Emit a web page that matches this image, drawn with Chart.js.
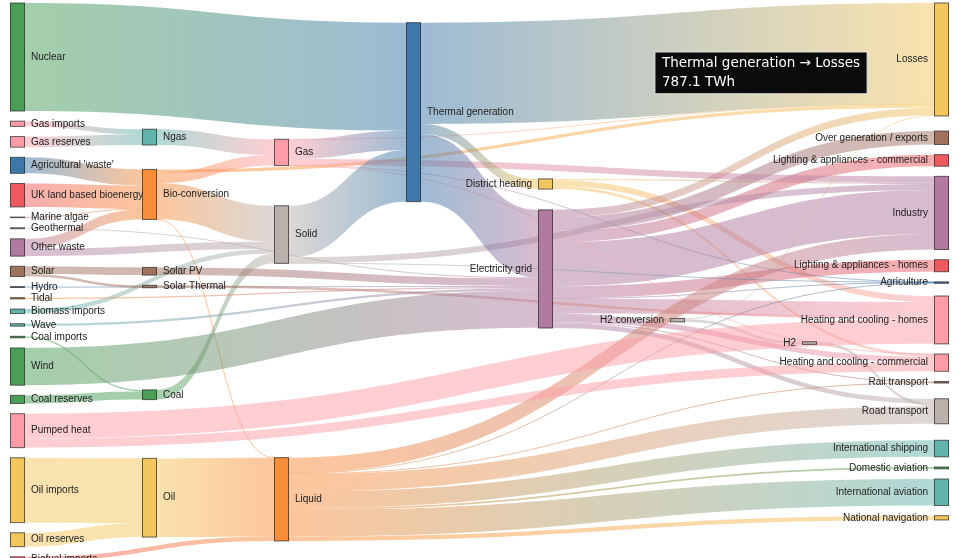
<!DOCTYPE html>
<html>
<head>
<meta charset="utf-8">
<script src="https://cdn.jsdelivr.net/npm/chart.js@4.4.1/dist/chart.umd.min.js"></script>
<style>
  html, body { margin: 0; padding: 0; background: #ffffff; }
  #wrap { width: 964px; height: 558px; position: relative; }
</style>
</head>
<body>
<div id="wrap"><canvas id="chart"></canvas></div>
<script>
// ---------------- DATA ----------------
// Node names, in the order they appear from top to bottom within each column
const nodeNames = [
  "Nuclear", "Gas imports", "Gas reserves", "Agricultural 'waste'", "UK land based bioenergy",
  "Marine algae", "Geothermal", "Other waste", "Solar", "Hydro", "Tidal", "Biomass imports",
  "Wave", "Coal imports", "Wind", "Coal reserves", "Pumped heat", "Oil imports", "Oil reserves",
  "Biofuel imports",
  "Ngas", "Bio-conversion", "Solar PV", "Solar Thermal", "Coal", "Oil",
  "Gas", "Solid", "Liquid",
  "Thermal generation",
  "District heating", "Electricity grid",
  "H2 conversion",
  "H2",
  "Losses", "Over generation / exports", "Lighting & appliances - commercial", "Industry",
  "Lighting & appliances - homes", "Agriculture", "Heating and cooling - homes",
  "Heating and cooling - commercial", "Rail transport", "Road transport",
  "International shipping", "Domestic aviation", "International aviation", "National navigation"
];

const linkFrom = [
  "Agricultural 'waste'", "Bio-conversion", "Bio-conversion", "Bio-conversion", "Bio-conversion",
  "Biofuel imports", "Biomass imports", "Coal imports", "Coal reserves", "Coal",
  "District heating", "District heating", "District heating",
  "Electricity grid", "Electricity grid", "Electricity grid", "Electricity grid", "Electricity grid",
  "Electricity grid", "Electricity grid", "Electricity grid", "Electricity grid", "Electricity grid",
  "Electricity grid",
  "Gas imports", "Gas reserves",
  "Gas", "Gas", "Gas", "Gas", "Gas",
  "Geothermal", "H2 conversion", "H2 conversion", "H2", "Hydro",
  "Liquid", "Liquid", "Liquid", "Liquid", "Liquid", "Liquid", "Liquid", "Liquid",
  "Marine algae", "Ngas", "Nuclear", "Oil imports", "Oil reserves", "Oil",
  "Other waste", "Other waste", "Pumped heat", "Pumped heat",
  "Solar PV", "Solar Thermal", "Solar", "Solar",
  "Solid", "Solid", "Solid",
  "Thermal generation", "Thermal generation", "Thermal generation",
  "Tidal", "UK land based bioenergy", "Wave", "Wind"
];

const linkTo = [
  "Bio-conversion", "Liquid", "Losses", "Solid", "Gas",
  "Liquid", "Solid", "Coal", "Coal", "Solid",
  "Industry", "Heating and cooling - commercial", "Heating and cooling - homes",
  "Over generation / exports", "Heating and cooling - homes", "H2 conversion", "Industry", "Road transport",
  "Agriculture", "Heating and cooling - commercial", "Losses", "Rail transport", "Lighting & appliances - commercial",
  "Lighting & appliances - homes",
  "Ngas", "Ngas",
  "Heating and cooling - commercial", "Losses", "Thermal generation", "Agriculture", "Industry",
  "Electricity grid", "H2", "Losses", "Road transport", "Electricity grid",
  "Industry", "International shipping", "Road transport", "Domestic aviation", "International aviation",
  "Agriculture", "National navigation", "Rail transport",
  "Bio-conversion", "Gas", "Thermal generation", "Oil", "Oil", "Liquid",
  "Solid", "Bio-conversion", "Heating and cooling - homes", "Heating and cooling - commercial",
  "Electricity grid", "Heating and cooling - homes", "Solar Thermal", "Solar PV",
  "Agriculture", "Thermal generation", "Industry",
  "Electricity grid", "Losses", "District heating",
  "Electricity grid", "Bio-conversion", "Electricity grid", "Electricity grid"
];

const linkFlow = [
  124.729, 0.597, 26.862, 280.322, 81.144,
  35, 35, 11.606, 63.965, 75.571,
  10.639, 22.505, 46.184,
  104.453, 113.726, 27.14, 342.165, 37.797,
  4.412, 40.858, 56.691, 7.863, 90.008,
  93.494,
  40.719, 82.233,
  0.129, 1.401, 151.891, 2.096, 48.58,
  7.013, 20.897, 6.242, 20.897, 6.995,
  121.066, 128.69, 135.835, 14.458, 206.267,
  3.64, 33.218, 4.413,
  4.375, 122.952, 839.978, 504.287, 107.703, 611.99,
  56.587, 77.81, 193.026, 70.672,
  59.901, 19.263, 19.263, 59.901,
  0.882, 400.12, 46.477,
  525.531, 787.129, 79.329,
  9.452, 182.01, 19.013, 289.366
];

const flowUnit = "TWh";
const hoveredLink = ["Thermal generation", "Losses"];

// ---------------- STYLE / LAYOUT SETTINGS ----------------
const C = {
  blue: "#3d78a8", orange: "#f98d3a", red: "#ef5a5e", teal: "#62b4ac", green: "#4a9e55",
  yellow: "#f4c65e", purple: "#b07aa1", pink: "#fe9da7", brown: "#a0735e", gray: "#bab0ac"
};
const nodeColor = {
  "Nuclear": C.green, "Gas imports": C.pink, "Gas reserves": C.pink, "Agricultural 'waste'": C.blue,
  "UK land based bioenergy": C.red, "Marine algae": C.brown, "Geothermal": C.gray, "Other waste": C.purple,
  "Solar": C.brown, "Hydro": C.blue, "Tidal": C.orange, "Biomass imports": C.teal, "Wave": C.teal,
  "Coal imports": C.green, "Wind": C.green, "Coal reserves": C.green, "Pumped heat": C.pink,
  "Oil imports": C.yellow, "Oil reserves": C.yellow, "Biofuel imports": C.red,
  "Ngas": C.teal, "Bio-conversion": C.orange, "Solar PV": C.brown, "Solar Thermal": C.brown,
  "Coal": C.green, "Oil": C.yellow, "Gas": C.pink, "Solid": C.gray, "Liquid": C.orange,
  "Thermal generation": C.blue, "District heating": C.yellow, "Electricity grid": C.purple,
  "H2 conversion": C.gray, "H2": C.gray,
  "Losses": C.yellow, "Over generation / exports": C.brown, "Lighting & appliances - commercial": C.red,
  "Industry": C.purple, "Lighting & appliances - homes": C.red, "Agriculture": C.blue,
  "Heating and cooling - homes": C.pink, "Heating and cooling - commercial": C.pink,
  "Rail transport": C.brown, "Road transport": C.gray, "International shipping": C.teal,
  "Domestic aviation": C.green, "International aviation": C.teal, "National navigation": C.yellow
};
const NODE_W = 15;          // px
const NODE_PAD = 79;        // gap between nodes, in flow units
const Y_EXTENT = 4316;      // vertical extent of the y scale, flow units
const ITERATIONS = 2;       // relaxation passes
const LINK_EXP = 1.5;       // weight exponent of links during relaxation
const SINK_EXP = 2;         // weight exponent for the sink column
const SINK_SLACK = 400;     // tolerance (flow units) before a sink node is pushed down
const POST_FROM_COL = 4;    // columns refined after the sink column is placed
const POST_EXP = 2, POST_ALPHA = 0.5, POST_REPEAT = 2;
const LABEL_FONT = '10px "Liberation Sans", Arial, sans-serif';
const HOVER_AT = { x: 4.886, y: 381 }; // pointer position (column units, flow units)

function rgba(hex, a) {
  const v = parseInt(hex.slice(1), 16);
  return `rgba(${(v >> 16) & 255},${(v >> 8) & 255},${v & 255},${a})`;
}

// ---------------- LAYOUT ----------------
function buildLayout() {
  const nodes = nodeNames.map((name, i) => ({ name, i, inL: [], outL: [], col: 0, y0: 0 }));
  const byName = new Map(nodes.map(n => [n.name, n]));
  const links = linkFrom.map((f, i) => ({ s: byName.get(f), t: byName.get(linkTo[i]), v: linkFlow[i], sy: 0, ty: 0 }));
  links.forEach(l => { l.s.outL.push(l); l.t.inL.push(l); });
  const sum = arr => arr.reduce((a, l) => a + l.v, 0);
  nodes.forEach(n => { n.size = Math.max(sum(n.inL), sum(n.outL)); });
  let changed = true;
  while (changed) {
    changed = false;
    links.forEach(l => { if (l.t.col < l.s.col + 1) { l.t.col = l.s.col + 1; changed = true; } });
  }
  const maxCol = Math.max(...nodes.map(n => n.col));
  nodes.forEach(n => { if (!n.outL.length) n.col = maxCol; });
  const cols = [];
  for (let c = 0; c <= maxCol; c++) cols.push(nodes.filter(n => n.col === c));
  cols.forEach(col => { let y = 0; col.forEach(n => { n.y0 = y; y += n.size + NODE_PAD; }); });

  const offsets = () => nodes.forEach(n => {
    let o = 0;
    n.outL.slice().sort((a, b) => a.t.y0 - b.t.y0 || a.t.i - b.t.i).forEach(l => { l.sy = o; o += l.v; });
    o = 0;
    n.inL.slice().sort((a, b) => a.s.y0 - b.s.y0 || a.s.i - b.s.i).forEach(l => { l.ty = o; o += l.v; });
  });
  const resolve = col => {
    let y = 0;
    col.forEach(n => { if (n.y0 < y) n.y0 = y; y = n.y0 + n.size + NODE_PAD; });
    y = Y_EXTENT;
    col.slice().reverse().forEach(n => { if (n.y0 + n.size > y) n.y0 = y - n.size; y = n.y0 - NODE_PAD; });
    y = 0;
    col.forEach(n => { if (n.y0 < y) n.y0 = y; y = n.y0 + n.size + NODE_PAD; });
  };
  const inD = (n, q) => {
    let s = 0, w = 0;
    n.inL.forEach(l => { const ww = Math.pow(l.v, q); s += ww * (l.s.y0 + l.sy - l.ty); w += ww; });
    return w ? s / w : null;
  };
  const outD = (n, q) => {
    let s = 0, w = 0;
    n.outL.forEach(l => { const ww = Math.pow(l.v, q); s += ww * (l.t.y0 + l.ty - l.sy); w += ww; });
    return w ? s / w : null;
  };
  const passRTL = (from, q, a) => {
    for (let c = maxCol - 1; c >= from; c--) {
      cols[c].forEach(n => { const d = outD(n, q); if (d !== null) n.y0 += (d - n.y0) * a; });
      resolve(cols[c]); offsets();
    }
  };
  const passLTR = (from, q, a) => {
    for (let c = from; c < maxCol; c++) {
      cols[c].forEach(n => { const d = inD(n, q); if (d !== null) n.y0 += (d - n.y0) * a; });
      resolve(cols[c]); offsets();
    }
  };
  offsets();
  for (let it = 0; it < ITERATIONS; it++) {
    const a = Math.pow(0.99, it);
    passRTL(1, LINK_EXP, a);
    passLTR(1, LINK_EXP, a);
  }
  // sink column: stacked from the top, a node is pushed down only when its inputs sit well below
  let y = 0;
  cols[maxCol].forEach(n => { n.y0 = Math.max(y, inD(n, SINK_EXP) - SINK_SLACK); y = n.y0 + n.size + NODE_PAD; });
  resolve(cols[maxCol]); offsets();
  // refine the right-hand middle columns against the placed sinks
  for (let r = 0; r < POST_REPEAT; r++) {
    passRTL(POST_FROM_COL, POST_EXP, POST_ALPHA);
    passLTR(POST_FROM_COL, POST_EXP, POST_ALPHA);
  }
  return { nodes, links, maxCol };
}

const L = buildLayout();

// ---------------- DRAWING ----------------
const sankeyPlugin = {
  id: 'sankeyDraw',
  beforeDatasetsDraw(chart) {
    const { ctx, scales: { x, y } } = chart;
    ctx.save();
    // flows
    L.links.forEach(l => {
      const x0 = x.getPixelForValue(l.s.col) + NODE_W;
      const x1 = x.getPixelForValue(l.t.col);
      const s0 = y.getPixelForValue(l.s.y0 + l.sy), s1 = y.getPixelForValue(l.s.y0 + l.sy + l.v);
      const t0 = y.getPixelForValue(l.t.y0 + l.ty), t1 = y.getPixelForValue(l.t.y0 + l.ty + l.v);
      const cx = (x0 + x1) / 2;
      const g = ctx.createLinearGradient(x0, 0, x1, 0);
      g.addColorStop(0, rgba(nodeColor[l.s.name], 0.5));
      g.addColorStop(1, rgba(nodeColor[l.t.name], 0.5));
      if (s1 - s0 < 1) {
        const sm = (s0 + s1) / 2, tm = (t0 + t1) / 2;
        ctx.beginPath();
        ctx.moveTo(x0, sm);
        ctx.bezierCurveTo(cx, sm, cx, tm, x1, tm);
        ctx.strokeStyle = g; ctx.lineWidth = 1; ctx.stroke();
      } else {
        ctx.beginPath();
        ctx.moveTo(x0, s0);
        ctx.bezierCurveTo(cx, s0, cx, t0, x1, t0);
        ctx.lineTo(x1, t1);
        ctx.bezierCurveTo(cx, t1, cx, s1, x0, s1);
        ctx.closePath();
        ctx.fillStyle = g; ctx.fill();
      }
    });
    // nodes
    L.nodes.forEach(n => {
      const px = x.getPixelForValue(n.col);
      const py0 = y.getPixelForValue(n.y0), py1 = y.getPixelForValue(n.y0 + n.size);
      ctx.fillStyle = nodeColor[n.name];
      ctx.fillRect(px, py0, NODE_W, py1 - py0);
      ctx.strokeStyle = 'rgba(50,50,50,0.75)';
      ctx.lineWidth = 1;
      ctx.strokeRect(Math.round(px) + 0.5, py0, NODE_W - 1, Math.max(py1 - py0, 0.5));
    });
    // labels
    ctx.font = LABEL_FONT;
    ctx.fillStyle = '#222';
    ctx.textBaseline = 'middle';
    const mid = (chart.chartArea.left + chart.chartArea.right) / 2;
    L.nodes.forEach(n => {
      const px = x.getPixelForValue(n.col);
      const pc = (y.getPixelForValue(n.y0) + y.getPixelForValue(n.y0 + n.size)) / 2;
      if (px < mid) { ctx.textAlign = 'left'; ctx.fillText(n.name, px + NODE_W + 6, pc); }
      else { ctx.textAlign = 'right'; ctx.fillText(n.name, px - 6, pc); }
    });
    ctx.restore();
  }
};

Chart.Tooltip.positioners.hoverPoint = function () {
  const c = this.chart;
  return { x: c.scales.x.getPixelForValue(HOVER_AT.x), y: c.scales.y.getPixelForValue(HOVER_AT.y) };
};

const linkPoints = L.links.map(l => ({
  x: (l.s.col + l.t.col) / 2,
  y: ((l.s.y0 + l.sy) + (l.t.y0 + l.ty)) / 2 + l.v / 2
}));

const chart = new Chart(document.getElementById('chart'), {
  type: 'scatter',
  data: { datasets: [{ label: 'flows', data: linkPoints, pointRadius: 0, pointHoverRadius: 0 }] },
  options: {
    responsive: true,
    maintainAspectRatio: false,
    animation: false,
    events: [],
    layout: { padding: { left: 10, right: 30, top: 3, bottom: 0 } },
    scales: {
      x: { type: 'linear', min: 0, max: L.maxCol, display: false },
      y: { type: 'linear', min: 0, max: Y_EXTENT, reverse: true, display: false }
    },
    plugins: {
      legend: { display: false },
      tooltip: {
        enabled: true,
        position: 'hoverPoint',
        xAlign: 'left', yAlign: 'top',
        caretSize: 0, caretPadding: 0, cornerRadius: 0,
        backgroundColor: '#0b0b0b',
        borderColor: 'rgba(235,235,235,0.9)', borderWidth: 1,
        bodyColor: '#ffffff',
        bodyFont: { family: '"DejaVu Sans", sans-serif', size: 13.5, lineHeight: 1.25 },
        bodySpacing: 2,
        padding: { top: 3, bottom: 3, left: 7, right: 7 },
        displayColors: false,
        callbacks: {
          title: () => [],
          label: ctx => {
            const l = L.links[ctx.dataIndex];
            return [`${l.s.name} \u2192 ${l.t.name}`, `${l.v.toFixed(1)} ${flowUnit}`];
          }
        }
      }
    }
  },
  plugins: [sankeyPlugin]
});

const hoverIdx = L.links.findIndex(l => l.s.name === hoveredLink[0] && l.t.name === hoveredLink[1]);
chart.tooltip.setActiveElements([{ datasetIndex: 0, index: hoverIdx }], { x: 0, y: 0 });
chart.update();
</script>
</body>
</html>
